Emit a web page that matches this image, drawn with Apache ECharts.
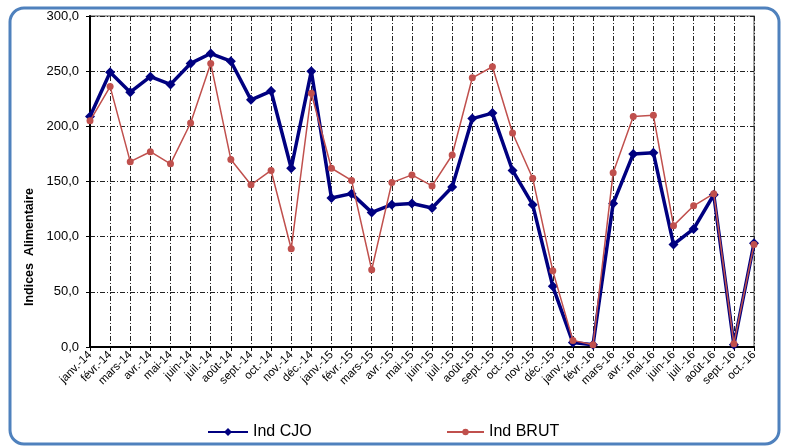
<!DOCTYPE html>
<html>
<head>
<meta charset="utf-8">
<script src="https://cdn.jsdelivr.net/npm/echarts@6/dist/echarts.min.js"></script>
<style>
    html, body { margin: 0; padding: 0; background: #fff; }
    #chart { width: 790px; height: 446px; }
</style>
</head>
<body>
<div id="chart"></div>
<script>
var months = [
    'janv.-14', 'févr.-14', 'mars-14', 'avr.-14', 'mai-14', 'juin-14', 'juil.-14', 'août-14', 'sept.-14', 'oct.-14', 'nov.-14', 'déc.-14',
    'janv.-15', 'févr.-15', 'mars-15', 'avr.-15', 'mai-15', 'juin-15', 'juil.-15', 'août-15', 'sept.-15', 'oct.-15', 'nov.-15', 'déc.-15',
    'janv.-16', 'févr.-16', 'mars-16', 'avr.-16', 'mai-16', 'juin-16', 'juil.-16', 'août-16', 'sept.-16', 'oct.-16'
];

var indCJO = [
    209, 249, 231, 245, 238, 257, 266, 259, 224, 232, 162, 250,
    135, 139, 122, 129, 130, 126, 145, 207, 212, 160, 129, 55,
    4, 2, 130, 175, 176, 93, 107, 138, 2, 94
];

var indBRUT = [
    205, 236, 168, 177, 166, 203, 257, 170, 147, 160, 89, 230,
    162, 151, 70, 149, 156, 146, 174, 244, 254, 194, 153, 69,
    6, 2, 158, 209, 210, 110, 128, 139, 3, 93
];

var yTicks = [0, 50, 100, 150, 200, 250, 300];

var FONT = '"Liberation Sans", Arial, sans-serif';
var dashDot = [5, 2, 1, 2];

var chart = echarts.init(document.getElementById('chart'));

option = {
    animation: false,
    textStyle: { fontFamily: FONT },
    graphic: [
        {
            type: 'rect',
            shape: { x: 10, y: 8, width: 769, height: 436, r: 14 },
            style: { fill: 'none', stroke: '#4f81bd', lineWidth: 3 },
            z: 0
        },
        {
            type: 'text',
            x: 30,
            y: 247,
            rotation: Math.PI / 2,
            style: {
                text: 'Indices  Alimentaire',
                font: 'bold 12.5px ' + FONT,
                fill: '#000',
                align: 'center',
                verticalAlign: 'middle'
            }
        }
    ],
    grid: {
        left: 90,
        right: 36,
        top: 16,
        bottom: 99,
        show: true,
        borderColor: '#888',
        borderWidth: 1.5
    },
    legend: [
        {
            data: ['Ind CJO'],
            left: 207,
            top: 424,
            padding: 0,
            itemWidth: 40,
            itemHeight: 10,
            textStyle: { fontSize: 16, color: '#000', fontFamily: FONT }
        },
        {
            data: ['Ind BRUT'],
            left: 446,
            top: 424,
            padding: 0,
            itemWidth: 37,
            itemHeight: 8,
            textStyle: { fontSize: 16, color: '#000', fontFamily: FONT }
        }
    ],
    xAxis: {
        type: 'category',
        data: months,
        boundaryGap: false,
        axisLine: { lineStyle: { color: '#000', width: 2 } },
        axisTick: { show: true, length: 4, lineStyle: { color: '#000' } },
        axisLabel: {
            interval: 0,
            rotate: 45,
            fontSize: 11.5,
            color: '#000',
            margin: 6,
            fontFamily: FONT
        },
        splitLine: {
            show: true,
            lineStyle: { color: '#222', width: 1, type: dashDot }
        }
    },
    yAxis: {
        type: 'value',
        min: yTicks[0],
        max: yTicks[yTicks.length - 1],
        interval: 50,
        axisLine: { show: true, lineStyle: { color: '#000', width: 2 } },
        axisTick: { show: true, length: 4, lineStyle: { color: '#000' } },
        axisLabel: {
            fontSize: 13,
            color: '#000',
            margin: 11,
            fontFamily: FONT,
            formatter: function (v) { return v.toFixed(1).replace('.', ','); }
        },
        splitLine: {
            show: true,
            lineStyle: { color: '#222', width: 1, type: dashDot }
        }
    },
    series: [
        {
            name: 'Ind CJO',
            type: 'line',
            data: indCJO,
            symbol: 'diamond',
            symbolSize: 10,
            z: 3,
            lineStyle: { color: '#000080', width: 3.5 },
            itemStyle: { color: '#000080' }
        },
        {
            name: 'Ind BRUT',
            type: 'line',
            data: indBRUT,
            symbol: 'circle',
            symbolSize: 7,
            z: 4,
            lineStyle: { color: '#c0504d', width: 1.5 },
            itemStyle: { color: '#c0504d' }
        }
    ]
};

chart.setOption(option);
</script>
</body>
</html>
